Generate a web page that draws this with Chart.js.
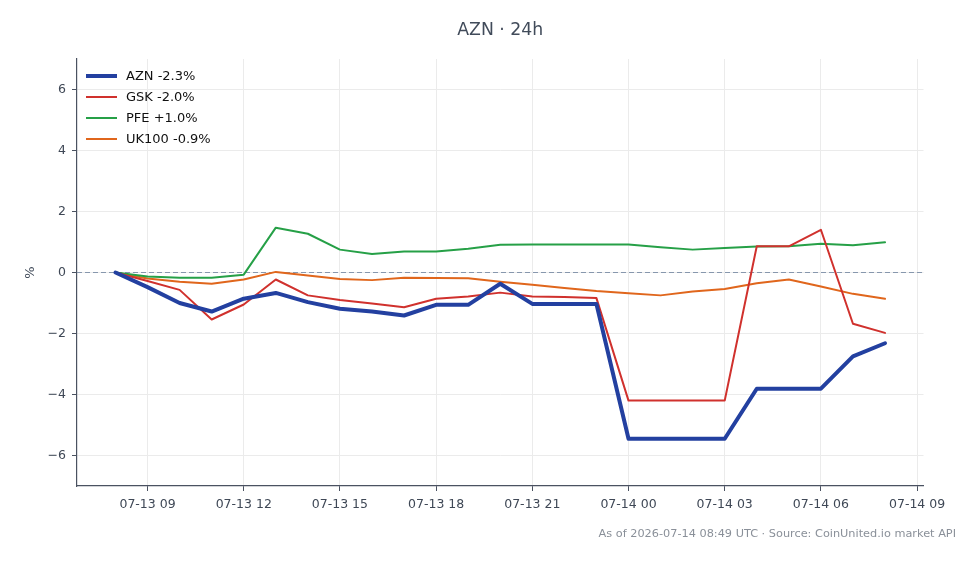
<!DOCTYPE html>
<html>
<head>
<meta charset="utf-8">
<script src="https://cdn.jsdelivr.net/npm/chart.js@4"></script>
<style>
  html, body { margin: 0; padding: 0; background: #ffffff; }
  #wrap { width: 980px; height: 564px; }
</style>
</head>
<body>
<div id="wrap"><canvas id="chart" width="980" height="564"></canvas></div>
<script>
// hours since 07-13 08:00 UTC
const hours = [0, 1, 2, 3, 4, 5, 6, 7, 8, 9, 10, 11, 12, 13, 14, 15, 16, 17, 18, 19, 20, 21, 22, 23, 24];

const azn = [0, -0.48, -1.0, -1.28, -0.86, -0.67, -0.97, -1.19, -1.28, -1.41, -1.06, -1.06, -0.37,
  -1.03, -1.03, -1.03, -5.45, -5.45, -5.45, -5.45, -3.81, -3.81, -3.81, -2.75, -2.32];
const gsk = [0, -0.28, -0.57, -1.54, -1.05, -0.23, -0.75, -0.9, -1.02, -1.14, -0.86, -0.79, -0.66,
  -0.79, -0.8, -0.84, -4.2, -4.2, -4.2, -4.2, 0.86, 0.86, 1.4, -1.68, -1.98];
const pfe = [0, -0.13, -0.17, -0.17, -0.07, 1.47, 1.27, 0.75, 0.61, 0.69, 0.69, 0.78, 0.91,
  0.92, 0.92, 0.92, 0.92, 0.83, 0.75, 0.8, 0.85, 0.86, 0.94, 0.89, 0.99];
const uk100 = [0, -0.2, -0.3, -0.37, -0.23, 0.02, -0.1, -0.21, -0.25, -0.17, -0.18, -0.19, -0.3,
  -0.4, -0.51, -0.61, -0.68, -0.75, -0.62, -0.54, -0.35, -0.23, -0.46, -0.7, -0.86];

const seriesLabels = ["AZN -2.3%", "GSK -2.0%", "PFE +1.0%", "UK100 -0.9%"];
const xTicks = [1, 4, 7, 10, 13, 16, 19, 22, 25];
const yTicks = [-6, -4, -2, 0, 2, 4, 6];

const titleText = "AZN · 24h";
const footerText = "As of 2026-07-14 08:49 UTC · Source: CoinUnited.io market API";

const FONT = "'DejaVu Sans', sans-serif";
const colors = {
  azn: "#2340a0",
  gsk: "#d0312d",
  pfe: "#26a047",
  uk100: "#e0661c",
};

const toPoints = (arr) => arr.map((v, i) => ({ x: hours[i], y: v }));

const hourLabel = (h) => {
  const day = 13 + Math.floor((8 + h) / 24);
  const hh = (8 + h) % 24;
  return "07-" + day + " " + String(hh).padStart(2, "0");
};

// title, y title, footer and the inside legend
const extras = {
  id: "extras",
  afterDraw(chart) {
    const ctx = chart.ctx;
    const area = chart.chartArea;
    ctx.save();

    ctx.fillStyle = "#414b5a";
    ctx.font = "17.3px " + FONT;
    ctx.textAlign = "center";
    ctx.textBaseline = "middle";
    ctx.fillText(titleText, (area.left + area.right) / 2, 31);

    ctx.save();
    ctx.translate(31, (area.top + area.bottom) / 2);
    ctx.rotate(-Math.PI / 2);
    ctx.font = "13px " + FONT;
    ctx.fillStyle = "#414b5a";
    ctx.fillText("%", 0, 0);
    ctx.restore();

    ctx.font = "11.3px " + FONT;
    ctx.fillStyle = "#8a9099";
    ctx.textAlign = "right";
    ctx.fillText(footerText, 956, 534);

    // legend
    ctx.textAlign = "left";
    ctx.font = "13px " + FONT;
    const rows = chart.data.datasets.filter((d) => !d.hideInLegend);
    rows.forEach((d, i) => {
      const y = 76 + i * 21;
      ctx.strokeStyle = d.borderColor;
      ctx.lineWidth = d.borderWidth;
      ctx.beginPath();
      ctx.moveTo(86, y);
      ctx.lineTo(117, y);
      ctx.stroke();
      ctx.fillStyle = "#111111";
      ctx.fillText(d.label, 126, y + 1);
    });
    ctx.restore();
  },
};

const lineSet = (label, data, color, width) => ({
  label,
  data: toPoints(data),
  borderColor: color,
  backgroundColor: color,
  borderWidth: width,
  pointRadius: 0,
  tension: 0,
  borderJoinStyle: "round",
  borderCapStyle: "round",
});

new Chart(document.getElementById("chart"), {
  type: "line",
  data: {
    datasets: [
      lineSet(seriesLabels[0], azn, colors.azn, 4),
      lineSet(seriesLabels[1], gsk, colors.gsk, 2),
      lineSet(seriesLabels[2], pfe, colors.pfe, 2),
      lineSet(seriesLabels[3], uk100, colors.uk100, 2),
      {
        label: "zero",
        hideInLegend: true,
        data: [{ x: -1.2, y: 0 }, { x: 25.2, y: 0 }],
        borderColor: "#8797ad",
        borderWidth: 1,
        borderDash: [5, 3],
        pointRadius: 0,
        order: 10,
      },
    ],
  },
  options: {
    responsive: false,
    animation: false,
    maintainAspectRatio: false,
    layout: { padding: { top: 59, right: 56.5, bottom: 0, left: 0 } },
    plugins: {
      legend: { display: false },
      title: { display: false },
      tooltip: { enabled: false },
    },
    scales: {
      x: {
        type: "linear",
        min: -1.2,
        max: 25.2,
        afterBuildTicks: (scale) => {
          scale.ticks = xTicks.map((v) => ({ value: v }));
        },
        afterFit: (scale) => {
          scale.height = 78;
        },
        ticks: {
          autoSkip: false,
          maxRotation: 0,
          padding: 6,
          color: "#3f4856",
          font: { family: FONT, size: 12.5 },
          callback: (v) => hourLabel(v),
        },
        grid: {
          color: "#ebebeb",
          tickColor: "#4a5261",
          tickLength: 5,
        },
        border: { color: "#4a5261", width: 1.2 },
      },
      y: {
        min: -7,
        max: 7,
        afterBuildTicks: (scale) => {
          scale.ticks = yTicks.map((v) => ({ value: v }));
        },
        afterFit: (scale) => {
          scale.width = 77;
        },
        ticks: {
          padding: 6,
          color: "#3f4856",
          font: { family: FONT, size: 12.5 },
          callback: (v) => String(v).replace("-", "\u2212"),
        },
        grid: {
          color: "#ebebeb",
          tickColor: "#4a5261",
          tickLength: 5,
        },
        border: { color: "#4a5261", width: 1.2 },
      },
    },
  },
  plugins: [extras],
});
</script>
</body>
</html>
